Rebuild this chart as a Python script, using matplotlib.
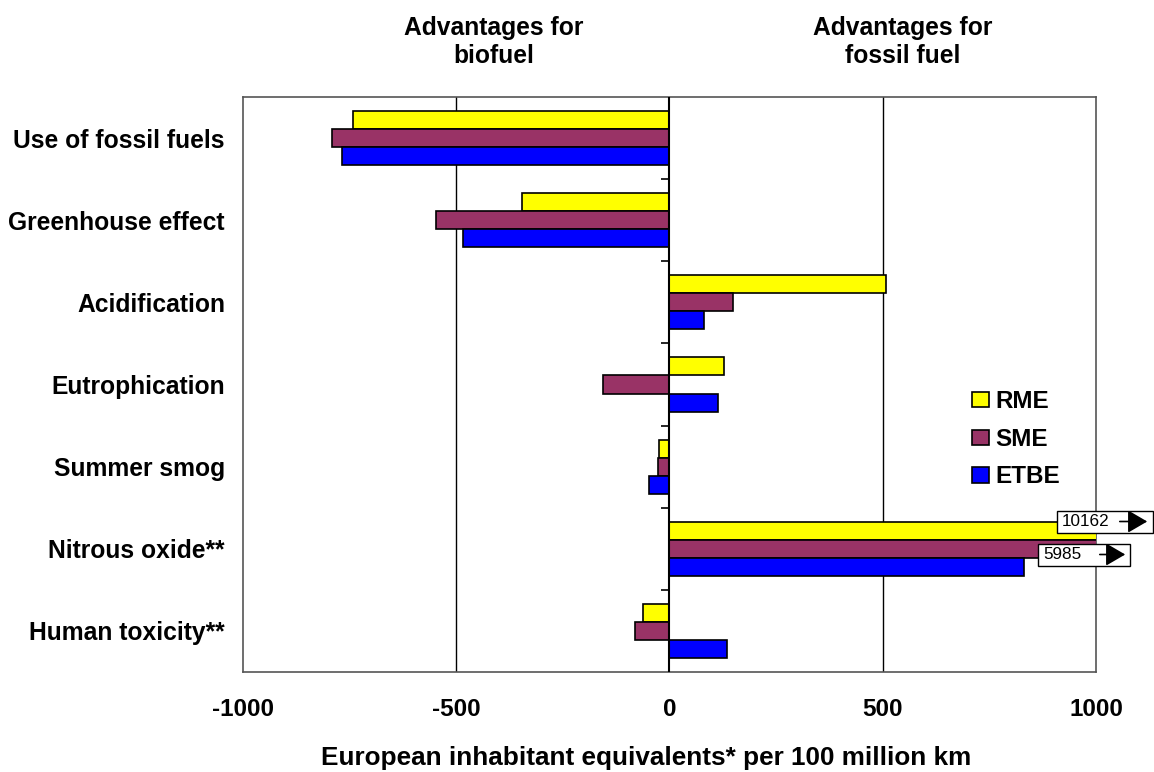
import matplotlib
matplotlib.use("Agg")
import matplotlib.pyplot as plt
import numpy as np

plt.rcParams["font.family"] = ["Liberation Sans", "DejaVu Sans"]

categories = ["Use of fossil fuels", "Greenhouse effect", "Acidification",
              "Eutrophication", "Summer smog", "Nitrous oxide**",
              "Human toxicity**"]
rme = [-742, -345, 507, 127, -25, 10162, -63]
sme = [-791, -547, 148, -155, -26, 5985, -82]
etbe = [-768, -484, 80, 113, -47, 832, 136]
xticks = [-1000, -500, 0, 500, 1000]

series = [("RME", rme, "#FFFF00"), ("SME", sme, "#993366"), ("ETBE", etbe, "#0000FF")]

fig = plt.figure(figsize=(11.54, 7.72), dpi=100)
ax = fig.add_axes([0.2106, 0.1295, 0.7391, 0.7449])

y = np.arange(len(categories))
h = 0.22
for i, (name, vals, col) in enumerate(series):
    ax.barh(y + (i - 1) * h, vals, height=h, color=col, edgecolor="black",
            linewidth=1.2, label=name, zorder=3)

ax.set_xlim(-1000, 1000)
ax.set_ylim(len(categories) - 0.5, -0.5)
ax.set_xticks(xticks)
ax.set_xticklabels([str(t) for t in xticks], fontsize=17.5, fontweight="bold")
ax.set_yticks(y)
ax.set_yticklabels(categories, fontsize=17.7, fontweight="bold")
ax.tick_params(axis="y", length=0, pad=13)
ax.tick_params(axis="x", length=0, pad=18.5)
for s in ax.spines.values():
    s.set_color("#555555")
    s.set_linewidth(1.2)
for gx in (-500, 500):
    ax.axvline(gx, color="black", linewidth=1.0, zorder=1)
ax.axvline(0, color="black", linewidth=1.5, zorder=4)
# category boundary ticks on the zero line
bounds = np.arange(len(categories) - 1) + 0.5
ax.hlines(bounds, -19, 0, color="black", linewidth=1.2, zorder=4)

fig.text(646 / 1154, 1 - 765 / 772,
         "European inhabitant equivalents* per 100 million km",
         ha="center", va="baseline", fontsize=18.8, fontweight="bold")

fig.text(494 / 1154, 0.946, "Advantages for\nbiofuel", ha="center", va="center",
         fontsize=17.7, fontweight="bold", linespacing=1.2)
fig.text(903 / 1154, 0.946, "Advantages for\nfossil fuel", ha="center", va="center",
         fontsize=17.7, fontweight="bold", linespacing=1.2)

leg = ax.legend(loc="upper left", bbox_to_anchor=(0.855, 0.49), frameon=False,
                fontsize=17.5, handlelength=0.7, handleheight=0.6, borderpad=0,
                borderaxespad=0, handletextpad=0.25, labelspacing=0.6)
for t in leg.get_texts():
    t.set_fontweight("bold")

# off-scale value boxes
for val, x0, x1, yc, ax0, ax1 in [(rme[5], 1057, 1153, 521.5, 1117, 1150),
                                  (sme[5], 1038, 1130, 554.5, 1097, 1128)]:
    fx0, fx1 = x0 / 1154, x1 / 1154
    fy = 1 - yc / 772
    hh = 22 / 772
    fig.patches.append(plt.Rectangle((fx0, fy - hh / 2), fx1 - fx0, hh,
                                     transform=fig.transFigure, facecolor="white",
                                     edgecolor="black", linewidth=1.0, zorder=10))
    fig.text(fx0 + 5 / 1154, fy, str(val), ha="left", va="center",
             fontsize=12.3, zorder=11)
    fig.add_artist(matplotlib.patches.FancyArrowPatch(
        (ax0 / 1154, fy), (ax1 / 1154, fy), transform=fig.transFigure,
        arrowstyle="-|>,head_length=0.6,head_width=0.35", mutation_scale=20,
        color="black", linewidth=1.2, zorder=12))

fig.savefig("out.png", dpi=100)
